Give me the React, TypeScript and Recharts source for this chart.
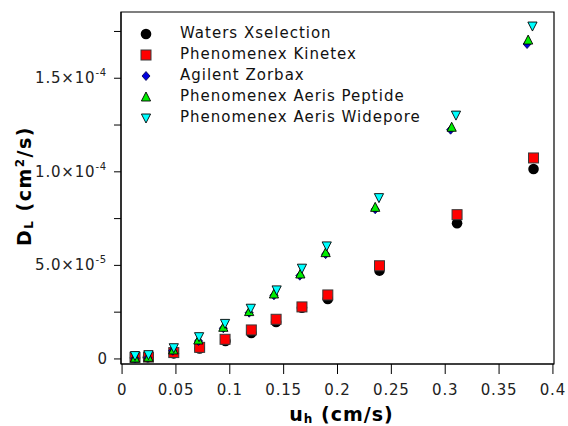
import { ReferenceArea, Scatter, ScatterChart, XAxis, YAxis } from "recharts";

const watersX = [0.012, 0.024, 0.048, 0.072, 0.096, 0.12, 0.143, 0.167, 0.191, 0.239, 0.311, 0.382];
const watersY = [0.6e-6, 0.9e-6, 3.0e-6, 5.6e-6, 9.6e-6, 1.39e-5, 1.98e-5, 2.74e-5, 3.2e-5, 4.72e-5, 7.25e-5, 1.015e-4];

const kinetexX = [0.012, 0.0245, 0.048, 0.072, 0.0956, 0.12, 0.143, 0.167, 0.191, 0.239, 0.311, 0.382];
const kinetexY = [0.8e-6, 1.0e-6, 3.4e-6, 6.2e-6, 1.05e-5, 1.55e-5, 2.12e-5, 2.78e-5, 3.42e-5, 4.98e-5, 7.71e-5, 1.074e-4];

const zorbaxX = [0.012, 0.024, 0.047, 0.071, 0.094, 0.118, 0.141, 0.165, 0.189, 0.235, 0.305, 0.376];
const zorbaxY = [0.3e-6, 0.6e-6, 4.4e-6, 9.6e-6, 1.64e-5, 2.47e-5, 3.4e-5, 4.45e-5, 5.6e-5, 8.0e-5, 1.225e-4, 1.683e-4];

const peptideX = [0.012, 0.0245, 0.0476, 0.0708, 0.094, 0.118, 0.141, 0.1655, 0.189, 0.235, 0.306, 0.377];
const peptideY = [0.5e-6, 0.9e-6, 4.8e-6, 1.01e-5, 1.69e-5, 2.53e-5, 3.47e-5, 4.54e-5, 5.68e-5, 8.1e-5, 1.238e-4, 1.704e-4];

const wideporeX = [0.012, 0.0245, 0.048, 0.0715, 0.0956, 0.1195, 0.1435, 0.167, 0.19, 0.2385, 0.31, 0.381];
const wideporeY = [1.8e-6, 2.3e-6, 6.0e-6, 1.19e-5, 1.9e-5, 2.71e-5, 3.69e-5, 4.85e-5, 6.04e-5, 8.62e-5, 1.303e-4, 1.779e-4];

const xTicks = [0, 0.05, 0.1, 0.15, 0.2, 0.25, 0.3, 0.35, 0.4];
const yTicks = [0, 2.5e-5, 5e-5, 7.5e-5, 1e-4, 1.25e-4, 1.5e-4, 1.75e-4];
const yMajor = [0, 5e-5, 1e-4, 1.5e-4];

const seriesNames = [
  "Waters Xselection",
  "Phenomenex Kinetex",
  "Agilent Zorbax",
  "Phenomenex Aeris Peptide",
  "Phenomenex Aeris Widepore",
];

const toPoints = (xs: number[], ys: number[]) => xs.map((x, i) => ({ x, y: ys[i] }));

const FONT = "'DejaVu Sans', Verdana, sans-serif";

function Marker({ kind, cx, cy }: { kind: number; cx: number; cy: number }) {
  if (kind === 0) return <circle cx={cx} cy={cy} r={5.3} fill="#000" />;
  if (kind === 1)
    return <rect x={cx - 5} y={cy - 5} width={10} height={10} fill="#ff0000" stroke="#3a3a3a" strokeWidth={1} />;
  if (kind === 2)
    return (
      <polygon
        points={`${cx},${cy - 4.5} ${cx + 4},${cy} ${cx},${cy + 4.5} ${cx - 4},${cy}`}
        fill="#0000dd"
        stroke="#000044"
        strokeWidth={0.8}
      />
    );
  if (kind === 3)
    return (
      <polygon
        points={`${cx},${cy - 5} ${cx + 4.6},${cy + 4} ${cx - 4.6},${cy + 4}`}
        fill="#00ee00"
        stroke="#000"
        strokeWidth={0.9}
      />
    );
  return (
    <polygon
      points={`${cx - 4.6},${cy - 4} ${cx + 4.6},${cy - 4} ${cx},${cy + 5}`}
      fill="#00ffff"
      stroke="#000"
      strokeWidth={0.9}
    />
  );
}

const shapeFor = (kind: number) => (props: any) => <Marker kind={kind} cx={props.cx} cy={props.cy} />;

function YTick({ x, y, payload }: any) {
  const v = payload.value as number;
  if (!yMajor.some((m) => Math.abs(m - v) < 1e-12)) return null;
  if (v === 0)
    return (
      <text x={x} y={y} dy={5} textAnchor="end" fontSize={15} fontFamily={FONT} fill="#222">
        0
      </text>
    );
  const exp = Math.floor(Math.log10(v) + 1e-9);
  const mant = (v / Math.pow(10, exp)).toFixed(1);
  return (
    <text x={x} y={y} dy={5} textAnchor="end" fontSize={15} fontFamily={FONT} fill="#222" letterSpacing={0.8}>
      {mant}×10
      <tspan fontSize={10} dy={-7}>
        {exp}
      </tspan>
    </text>
  );
}

function XTitle({ viewBox }: any) {
  const cx = viewBox.x + viewBox.width / 2;
  return (
    <text
      x={cx + 4}
      y={421}
      textAnchor="middle"
      fontSize={19}
      fontWeight="bold"
      fontFamily={FONT}
      fill="#000"
      letterSpacing={1}
    >
      u
      <tspan fontSize={12} dy={2}>
        h
      </tspan>
      <tspan dy={-2}> (cm/s)</tspan>
    </text>
  );
}

function YTitle({ viewBox }: any) {
  const cy = viewBox.y + viewBox.height / 2 - 2;
  return (
    <text
      x={31}
      y={cy}
      transform={`rotate(-90, 31, ${cy})`}
      textAnchor="middle"
      fontSize={19}
      fontWeight="bold"
      fontFamily={FONT}
      fill="#000"
      letterSpacing={1.5}
    >
      D
      <tspan fontSize={12} dy={2}>
        L
      </tspan>
      <tspan dy={-2}> (cm</tspan>
      <tspan fontSize={12} dy={-7}>
        2
      </tspan>
      <tspan dy={7}>/s)</tspan>
    </text>
  );
}

function LegendBox() {
  return (
    <div
      style={{
        position: "absolute",
        top: 23,
        left: 138,
        fontFamily: FONT,
        fontSize: 15,
        color: "#111",
        lineHeight: "21px",
        letterSpacing: 1,
      }}
    >
      {seriesNames.map((name, i) => (
        <div key={name} style={{ display: "flex", alignItems: "center", height: 21 }}>
          <svg width={16} height={16} style={{ display: "block" }}>
            <Marker kind={i} cx={8} cy={8} />
          </svg>
          <span style={{ marginLeft: 26, whiteSpace: "nowrap" }}>{name}</span>
        </div>
      ))}
    </div>
  );
}

const allSeries = [
  toPoints(watersX, watersY),
  toPoints(kinetexX, kinetexY),
  toPoints(zorbaxX, zorbaxY),
  toPoints(peptideX, peptideY),
  toPoints(wideporeX, wideporeY),
];

export default function App() {
  return (
    <div style={{ position: "relative", width: 568, height: 426, background: "#fff" }}>
      <style>{"body{margin:0}"}</style>
      <ScatterChart width={568} height={426} margin={{ top: 12, right: 14, bottom: 0, left: 0 }}>
        <XAxis
          type="number"
          dataKey="x"
          domain={[-0.001, 0.401]}
          ticks={xTicks}
          tickFormatter={(v: number) => String(v)}
          tickSize={10}
          tickMargin={10}
          height={62}
          allowDataOverflow
          stroke="#000"
          tick={{ fontSize: 15, fontFamily: FONT, fill: "#222", letterSpacing: 0.8 }}
          label={<XTitle />}
        />
        <YAxis
          type="number"
          dataKey="y"
          domain={[-2.7e-6, 1.854e-4]}
          ticks={yTicks}
          tickSize={7}
          tickMargin={7}
          width={121}
          allowDataOverflow
          stroke="#000"
          tick={<YTick />}
          label={<YTitle />}
        />
        <ReferenceArea
          x1={-0.001}
          x2={0.401}
          y1={-2.7e-6}
          y2={1.854e-4}
          fill="none"
          stroke="#000"
          strokeWidth={1.2}
          fillOpacity={0}
        />
        {allSeries.map((data, i) => (
          <Scatter
            key={seriesNames[i]}
            name={seriesNames[i]}
            data={data}
            shape={shapeFor(i)}
            isAnimationActive={false}
          />
        ))}
      </ScatterChart>
      <LegendBox />
    </div>
  );
}
